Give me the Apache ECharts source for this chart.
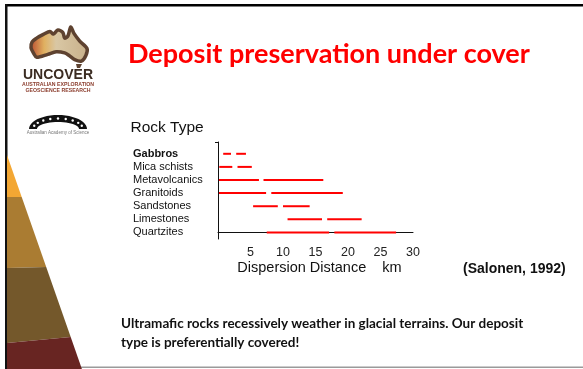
<!DOCTYPE html>
<html>
<head>
<meta charset="utf-8">
<title>Deposit preservation under cover</title>
<script src="https://cdn.jsdelivr.net/npm/echarts@6/dist/echarts.min.js"></script>
<style>
  html, body { margin: 0; padding: 0; background: #ffffff; }
  #chart { width: 583px; height: 369px; }
</style>
</head>
<body>
<div id="chart"></div>
<script>
// Rock types, listed top to bottom as they appear on the chart
var rockTypes = ['Gabbros', 'Mica schists', 'Metavolcanics', 'Granitoids', 'Sandstones', 'Limestones', 'Quartzites'];
// Dispersion distance ranges (km), drawn as two dashes per rock type
var firstDash  = [[0.8, 2.0], [0.2, 2.2], [0.15, 6.3], [0.15, 7.4], [5.4, 9.2], [10.7, 16.0], [7.5, 17.1]];
var secondDash = [[2.8, 4.3], [3.0, 5.2], [7.0, 16.2], [8.2, 19.2], [10.0, 14.1], [16.8, 22.1], [17.9, 27.4]];
var distanceTicks = [5, 10, 15, 20, 25, 30];

var SANS = '"Liberation Sans", Arial, sans-serif';
var SLIDE = 'Lato, "Open Sans", sans-serif';

// Row value on the y axis: top row gets the highest value
function rowOf(i) { return rockTypes.length - 1 - i; }

var segments = [];
rockTypes.forEach(function (name, i) {
  segments.push([rowOf(i), firstDash[i][0], firstDash[i][1]]);
  segments.push([rowOf(i), secondDash[i][0], secondDash[i][1]]);
});

var rowValues = rockTypes.map(function (n, i) { return rowOf(i); });

// Slide decoration: left wedge made of coloured bands
function edgeX(y) { return 7 + (y - 155) * 0.35; }
var wedgeBands = [
  { color: '#f3a733', pts: [[7, 155], [edgeX(197), 197], [7, 197]] },
  { color: '#aa7c32', pts: [[7, 197], [edgeX(197), 197], [edgeX(267), 267], [7, 268]] },
  { color: '#74582b', pts: [[7, 268], [edgeX(267), 267], [edgeX(337), 337], [7, 343]] },
  { color: '#682522', pts: [[7, 343], [edgeX(337), 337], [edgeX(369), 369], [7, 369]] }
];

// Simplified outline of Australia for the UNCOVER emblem
var ausOutline = [
  [0.00, 0.56], [0.02, 0.40], [0.10, 0.30], [0.22, 0.20], [0.34, 0.12], [0.40, 0.19],
  [0.48, 0.08], [0.57, 0.15], [0.60, 0.30], [0.66, 0.24], [0.71, 0.00], [0.77, 0.18],
  [0.87, 0.38], [1.00, 0.58], [0.98, 0.77], [0.90, 0.92], [0.78, 0.88], [0.68, 0.77],
  [0.60, 0.70], [0.45, 0.67], [0.30, 0.74], [0.10, 0.82], [0.05, 0.72]
].map(function (p) { return [31 + p[0] * 56, 27 + p[1] * 37]; });

// Academy dome: an elliptical band with small windows
function domePoints() {
  var cx = 58, cy = 129, pts = [], k;
  for (k = 0; k <= 24; k++) {
    var a = Math.PI * k / 24;
    pts.push([cx - 29 * Math.cos(a), cy - 14 * Math.sin(a)]);
  }
  for (k = 24; k >= 0; k--) {
    var b = Math.PI * k / 24;
    pts.push([cx - 21 * Math.cos(b), cy - 7 * Math.sin(b)]);
  }
  return pts;
}
var domeWindows = [];
for (var w = 1; w < 10; w++) {
  var ang = Math.PI * w / 10;
  domeWindows.push({
    type: 'circle', silent: true,
    shape: { cx: 58 - 25 * Math.cos(ang), cy: 129 - 10.5 * Math.sin(ang), r: 1.2 },
    style: { fill: '#ffffff' }
  });
}

var chart = echarts.init(document.getElementById('chart'), null, { renderer: 'canvas' });

chart.setOption({
  backgroundColor: '#ffffff',
  animation: false,
  grid: { left: 218, right: 170, top: 142, bottom: 130, containLabel: false },
  xAxis: {
    type: 'value',
    min: 0, max: 30, interval: 5,
    axisLine: { show: true, lineStyle: { color: '#111', width: 1 } },
    axisTick: { show: false },
    splitLine: { show: false },
    axisLabel: {
      margin: 7,
      color: '#222', fontSize: 12.5, fontFamily: SANS,
      customValues: distanceTicks
    },
    name: 'Dispersion Distance    km',
    nameLocation: 'middle',
    nameGap: 21,
    nameTextStyle: { color: '#111', fontSize: 14.5, fontFamily: SANS, padding: [0, 0, 0, 8] }
  },
  yAxis: {
    type: 'value',
    min: -0.5, max: 6.9,
    axisLine: { show: true, lineStyle: { color: '#111', width: 1 } },
    axisTick: { show: true, length: 3, customValues: [6.9], lineStyle: { color: '#111' } },
    splitLine: { show: false },
    axisLabel: {
      customValues: rowValues,
      align: 'left',
      margin: 85,
      color: '#111', fontSize: 11, fontFamily: SANS,
      formatter: function (v) {
        var name = rockTypes[rockTypes.length - 1 - Math.round(v)];
        return name === 'Gabbros' ? '{b|' + name + '}' : name;
      },
      rich: { b: { fontWeight: 'bold', fontSize: 11, fontFamily: SANS, color: '#111' } }
    }
  },
  series: [{
    type: 'custom',
    data: segments,
    encode: { x: [1, 2], y: 0 },
    renderItem: function (params, api) {
      var p0 = api.coord([api.value(1), api.value(0)]);
      var p1 = api.coord([api.value(2), api.value(0)]);
      return {
        type: 'line',
        shape: { x1: p0[0], y1: p0[1], x2: p1[0], y2: p1[1] },
        style: { stroke: '#ff0000', lineWidth: 2 }
      };
    }
  }],
  graphic: [
    // slide frame
    { type: 'rect', silent: true, shape: { x: 5, y: 4, width: 578, height: 2.5 }, style: { fill: '#000' } },
    { type: 'rect', silent: true, shape: { x: 5, y: 4, width: 2.5, height: 365 }, style: { fill: '#111' } },
    { type: 'rect', silent: true, shape: { x: 7, y: 366.5, width: 576, height: 1.5 }, style: { fill: '#9a9a9a' } },
    // wedge bands
    { type: 'group', silent: true, children: wedgeBands.map(function (b) {
      return { type: 'polygon', shape: { points: b.pts }, style: { fill: b.color } };
    }) },
    // UNCOVER emblem
    { type: 'polygon', silent: true, shape: { points: ausOutline, smooth: 0.3 },
      style: {
        fill: { type: 'linear', x: 0, y: 0, x2: 1, y2: 0, colorStops: [
          { offset: 0, color: '#b8452c' }, { offset: 0.25, color: '#e0b060' },
          { offset: 0.45, color: '#d9c7a4' }, { offset: 1, color: '#c8b08a' }] },
        stroke: '#5e4230', lineWidth: 3.5
      } },
    { type: 'polygon', silent: true, shape: { points: [[76, 64], [82, 64], [80, 68], [77, 68]] },
      style: { fill: '#5e4230' } },
    { type: 'text', silent: true, x: 58, y: 75.5,
      style: { text: 'UNCOVER', fill: '#3b2c22', font: 'bold 14px ' + SANS, align: 'center', verticalAlign: 'middle' } },
    { type: 'text', silent: true, x: 58, y: 85,
      style: { text: 'AUSTRALIAN EXPLORATION', fill: '#8a3b2b', font: 'bold 5.2px ' + SANS, align: 'center', verticalAlign: 'middle' } },
    { type: 'text', silent: true, x: 58, y: 90.5,
      style: { text: 'GEOSCIENCE RESEARCH', fill: '#8a3b2b', font: 'bold 5.2px ' + SANS, align: 'center', verticalAlign: 'middle' } },
    // Academy emblem
    { type: 'polygon', silent: true, shape: { points: domePoints() }, style: { fill: '#111' } },
    { type: 'group', silent: true, children: domeWindows },
    { type: 'text', silent: true, x: 58, y: 133,
      style: { text: 'Australian Academy of Science', fill: '#777', font: '4.5px ' + SANS, align: 'center', verticalAlign: 'middle' } },
    // title
    { type: 'text', silent: true, x: 128, y: 54,
      style: { text: 'Deposit preservation under cover', fill: '#ff0000', font: 'bold 27px ' + SLIDE, verticalAlign: 'middle' } },
    // chart heading
    { type: 'text', silent: true, x: 130.5, y: 127.5,
      style: { text: 'Rock Type', fill: '#111', font: '15.5px ' + SANS, verticalAlign: 'middle' } },
    // source
    { type: 'text', silent: true, x: 463, y: 269,
      style: { text: '(Salonen, 1992)', fill: '#111', font: 'bold 14px ' + SANS, verticalAlign: 'middle' } },
    // note
    { type: 'text', silent: true, x: 121, y: 324,
      style: { text: 'Ultramafic rocks recessively weather in glacial terrains. Our deposit', fill: '#111', font: 'bold 13.5px ' + SLIDE, verticalAlign: 'middle' } },
    { type: 'text', silent: true, x: 121, y: 342.5,
      style: { text: 'type is preferentially covered!', fill: '#111', font: 'bold 13.5px ' + SLIDE, verticalAlign: 'middle' } }
  ]
});
</script>
</body>
</html>
